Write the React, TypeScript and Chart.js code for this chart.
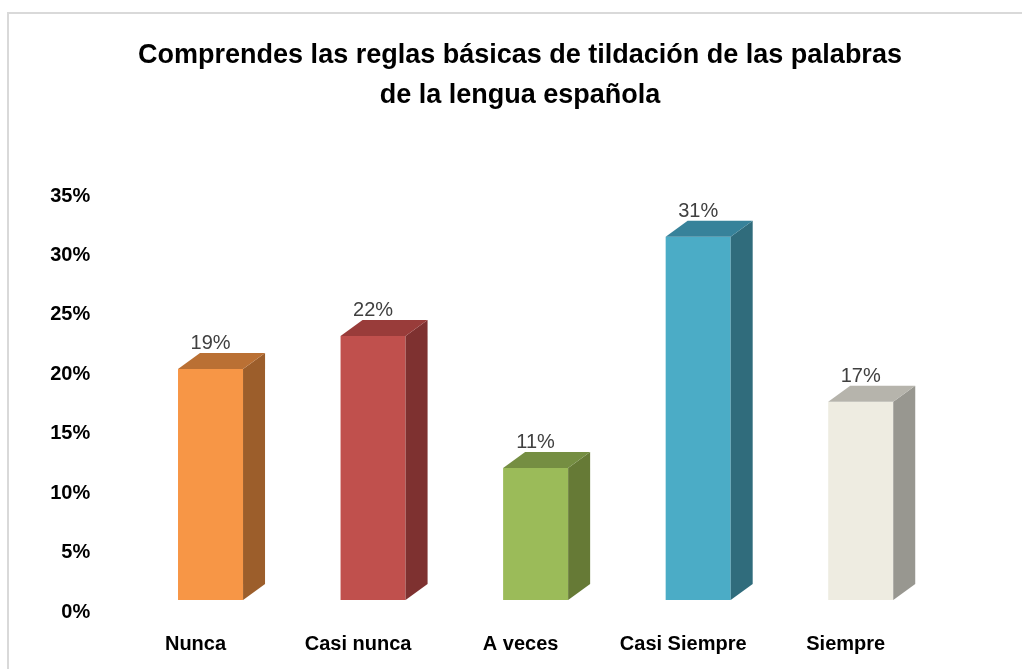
import React, { useEffect, useRef } from "react";
import { Chart, registerables } from "chart.js";

Chart.register(...registerables);

const titleLines = [
  "Comprendes las reglas básicas de tildación de las palabras",
  "de la lengua española",
];
const categories = ["Nunca", "Casi nunca", "A veces", "Casi Siempre", "Siempre"];
const percentages = [19.44, 22.22, 11.11, 30.56, 16.67];
const yMin = 0;
const yMax = 35;
const yStep = 5;

const frontColors = ["#F79646", "#C0504D", "#9BBB59", "#4BACC6", "#EEECE1"];
const sideColors = ["#9C5E2B", "#7E3130", "#667A36", "#306C7C", "#989790"];
const topColors = ["#BA7034", "#993C3A", "#758E42", "#37829A", "#B6B4AC"];

const FONT = "'Liberation Sans', Arial, sans-serif";
const DX = 22;
const DY = 16;

const framePlugin = {
  id: "frame",
  beforeDraw(chart: any) {
    const ctx = chart.ctx;
    ctx.save();
    ctx.fillStyle = "#ffffff";
    ctx.fillRect(0, 0, chart.width, chart.height);
    ctx.strokeStyle = "#d9d9d9";
    ctx.lineWidth = 2;
    ctx.beginPath();
    ctx.moveTo(8, chart.height);
    ctx.lineTo(8, 13);
    ctx.lineTo(chart.width, 13);
    ctx.stroke();
    ctx.restore();
  },
  afterDraw(chart: any) {
    const ctx = chart.ctx;
    ctx.save();
    ctx.fillStyle = "#000000";
    ctx.font = `bold 27px ${FONT}`;
    ctx.textAlign = "center";
    ctx.textBaseline = "middle";
    titleLines.forEach((line, i) => {
      ctx.fillText(line, 520, 56 + i * 40);
    });
    ctx.restore();
  },
};

const bar3dPlugin = {
  id: "bar3d",
  afterDatasetsDraw(chart: any) {
    const ctx = chart.ctx;
    const meta = chart.getDatasetMeta(0);
    ctx.save();
    meta.data.forEach((el: any, i: number) => {
      const { x, y, base, width } = el.getProps(["x", "y", "base", "width"], true);
      const l = x - width / 2;
      const r = x + width / 2;
      ctx.fillStyle = sideColors[i];
      ctx.beginPath();
      ctx.moveTo(r, y);
      ctx.lineTo(r + DX, y - DY);
      ctx.lineTo(r + DX, base - DY);
      ctx.lineTo(r, base);
      ctx.closePath();
      ctx.fill();
      ctx.fillStyle = topColors[i];
      ctx.beginPath();
      ctx.moveTo(l, y);
      ctx.lineTo(l + DX, y - DY);
      ctx.lineTo(r + DX, y - DY);
      ctx.lineTo(r, y);
      ctx.closePath();
      ctx.fill();
      ctx.fillStyle = "#404040";
      ctx.font = `20px ${FONT}`;
      ctx.textAlign = "center";
      ctx.textBaseline = "middle";
      ctx.fillText(Math.round(percentages[i]) + "%", x, y - 25);
    });
    ctx.restore();
  },
};

export default function App() {
  const ref = useRef<HTMLCanvasElement>(null);
  useEffect(() => {
    if (!ref.current) return;
    const chart = new Chart(ref.current, {
      type: "bar",
      data: {
        labels: categories,
        datasets: [
          {
            data: percentages,
            backgroundColor: frontColors,
            borderWidth: 0,
            barPercentage: 0.4,
            categoryPercentage: 1,
          },
        ],
      },
      options: {
        responsive: false,
        animation: false,
        devicePixelRatio: 1,
        layout: { padding: { left: 30, right: 80, top: 184, bottom: 0 } },
        plugins: {
          legend: { display: false },
          tooltip: { enabled: false },
          title: { display: false },
        },
        scales: {
          x: {
            grid: { display: false, drawTicks: false },
            border: { display: false },
            ticks: {
              color: "#000000",
              font: { family: FONT, size: 20, weight: "bold" },
              padding: 32,
              labelOffset: -15,
              maxRotation: 0,
            },
            afterFit: (s: any) => {
              s.height = 69;
            },
          },
          y: {
            min: yMin,
            max: yMax,
            grid: { display: false, drawTicks: false },
            border: { display: false },
            ticks: {
              stepSize: yStep,
              color: "#000000",
              font: { family: FONT, size: 20, weight: "bold" },
              padding: 39,
              labelOffset: 12,
              callback: (v: any) => v + "%",
            },
            afterFit: (s: any) => {
              s.width = 99.25;
            },
          },
        },
      },
      plugins: [framePlugin, bar3dPlugin],
    });
    return () => chart.destroy();
  }, []);
  return (
    <div style={{ position: "fixed", left: 0, top: 0, width: 1022, height: 669, overflow: "hidden", background: "#fff" }}>
      <canvas ref={ref} width={1022} height={669} style={{ display: "block" }} />
    </div>
  );
}
